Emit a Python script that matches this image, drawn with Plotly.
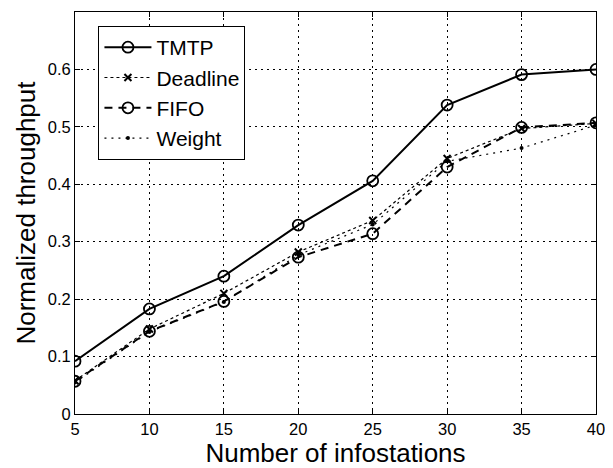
import plotly.graph_objects as go

x = [5, 10, 15, 20, 25, 30, 35, 40]
tmtp = [0.092, 0.183, 0.240, 0.329, 0.406, 0.538, 0.591, 0.600]
deadline = [0.058, 0.148, 0.210, 0.282, 0.337, 0.445, 0.497, 0.506]
fifo = [0.057, 0.144, 0.196, 0.273, 0.314, 0.430, 0.499, 0.507]
weight = [0.055, 0.143, 0.195, 0.277, 0.330, 0.440, 0.463, 0.503]
y_ticks = [0, 0.1, 0.2, 0.3, 0.4, 0.5, 0.6, 0.7]
y_ticktext = ["0", "0.1", "0.2", "0.3", "0.4", "0.5", "0.6", "0.7"]

FONT = "Liberation Sans"

fig = go.Figure()
fig.add_trace(go.Scatter(x=x, y=tmtp, name="TMTP", mode="lines+markers",
                         line=dict(color="black", width=2),
                         marker=dict(symbol="circle-open", size=11, color="black", line=dict(width=1.8))))
fig.add_trace(go.Scatter(x=x, y=deadline, name="Deadline", mode="lines+markers",
                         line=dict(color="black", width=1.2, dash="dot"),
                         marker=dict(symbol="x-thin-open", size=7, color="black", line=dict(width=2))))
fig.add_trace(go.Scatter(x=x, y=fifo, name="FIFO", mode="lines+markers",
                         line=dict(color="black", width=2, dash="8px,6px"),
                         marker=dict(symbol="circle-open", size=11, color="black", line=dict(width=1.8))))
fig.add_trace(go.Scatter(x=x, y=weight, name="Weight", mode="lines+markers",
                         line=dict(color="black", width=1.2, dash="2px,5px"),
                         marker=dict(symbol="circle", size=4, color="black")))

axis_common = dict(showline=True, linecolor="black", linewidth=1, mirror="ticks",
                   ticks="inside", ticklen=5, tickcolor="black", automargin=False,
                   showgrid=True, gridcolor="#000000", griddash="1.5px,4.5px", gridwidth=1,
                   zeroline=False, tickfont=dict(size=16.5, color="black", family=FONT))

fig.update_xaxes(range=[5, 40], tickvals=x, **axis_common,
                 title=dict(text="Number of infostations", font=dict(size=26, color="black", family=FONT), standoff=2))
fig.update_yaxes(range=[0, 0.7], tickvals=y_ticks, ticktext=y_ticktext, **axis_common,
                 title=dict(text="Normalized throughput", font=dict(size=26, color="black", family=FONT), standoff=4))

# page body has an 8px default margin, so the figure is sized/offset to compensate
fig.update_layout(width=605, height=460, plot_bgcolor="white", paper_bgcolor="white",
                  margin=dict(l=67, r=17, t=4, b=54),
                  font=dict(family=FONT, color="black"),
                  legend=dict(x=0.045, y=0.965, xanchor="left", yanchor="top",
                              bgcolor="white", bordercolor="black", borderwidth=1,
                              font=dict(size=21, color="black", family=FONT),
                              tracegroupgap=0, itemwidth=47))

fig.write_html("out.html")
